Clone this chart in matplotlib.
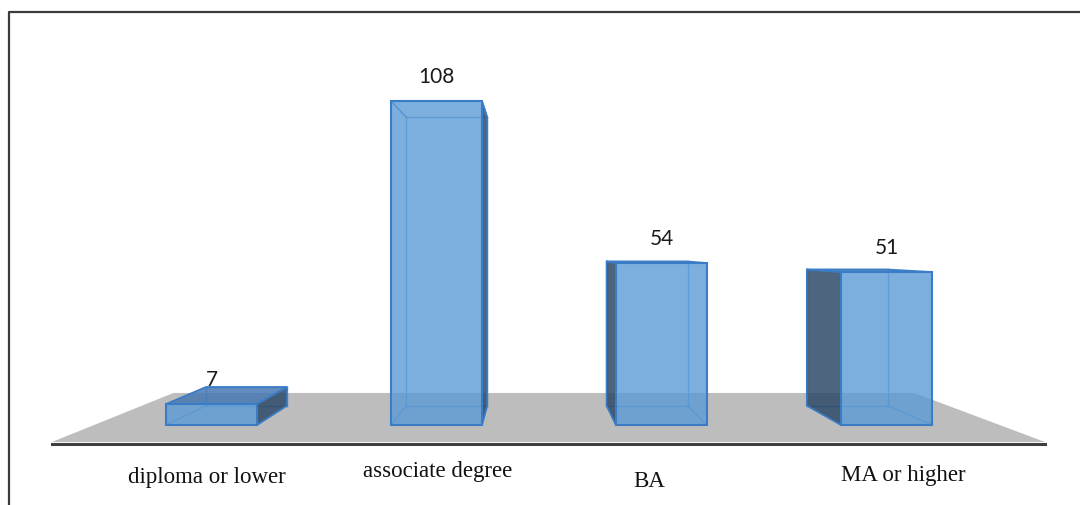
import matplotlib.pyplot as plt
from matplotlib.patches import Polygon

# data
categories = ['diploma or lower', 'associate degree', 'BA', 'MA or higher']
values = [7, 108, 54, 51]

# layout (pixel-like coordinates, y grows downward)
W, H = 1080, 506
vp = (530.0, 250.0)        # vanishing point of the fake perspective
k_bar = 0.89               # depth shrink of the bars
k_floor = 0.746            # depth shrink of the floor
base_y = 426.0
px_per_unit = 3.0
bar_w = 91.0
first_left = 166.0
step = 225.0
label_dx = [-5, 1, -12, 17]
label_dy = [52, 46, 56, 50]

face_col = (91/255, 155/255, 213/255, 0.8)
side_col = (46/255, 74/255, 104/255, 0.85)
top_col = (70/255, 120/255, 178/255, 0.85)
edge_col = '#3a7dc6'


def back(p, k):
    return (vp[0] + k * (p[0] - vp[0]), vp[1] + k * (p[1] - vp[1]))


fig = plt.figure(figsize=(W / 100, H / 100), dpi=100)
ax = fig.add_axes([0, 0, 1, 1])
ax.set_xlim(0, W)
ax.set_ylim(H, 0)
ax.axis('off')

# outer frame
ax.plot([9, 9, W], [H, 13, 13], color='#3c3c3c', lw=1.6, solid_capstyle='butt')

# floor
fl, fr, fy = 52.0, 1045.0, 443.0
floor = [(fl, fy), (fr, fy), back((fr, fy), k_floor), back((fl, fy), k_floor)]
ax.add_patch(Polygon(floor, closed=True, fc='#bdbdbd', ec='none', zorder=1))
ax.plot([fl, fr], [fy + 1.5, fy + 1.5], color='#3f3f3f', lw=2.2, zorder=2)

for i, (cat, v) in enumerate(zip(categories, values)):
    x0 = first_left + i * step
    x1 = x0 + bar_w
    top = base_y - v * px_per_unit
    fbl, fbr, ftr, ftl = (x0, base_y), (x1, base_y), (x1, top), (x0, top)
    bbl, bbr, btr, btl = [back(p, k_bar) for p in (fbl, fbr, ftr, ftl)]
    z = 3

    # back edges seen through the front face
    for a, b in [(bbl, bbr), (bbr, btr), (btr, btl), (btl, bbl), (fbl, bbl), (fbr, bbr)]:
        ax.plot([a[0], b[0]], [a[1], b[1]], color=edge_col, lw=1.0, alpha=0.7, zorder=z)

    # visible side face
    if x1 < vp[0]:
        side = [fbr, ftr, btr, bbr]
    else:
        side = [fbl, ftl, btl, bbl]
    ax.add_patch(Polygon(side, closed=True, fc=side_col, ec=edge_col, lw=1.2, zorder=z + 1))

    # top face when seen from above
    if top > vp[1]:
        ax.add_patch(Polygon([ftl, ftr, btr, btl], closed=True, fc=top_col, ec=edge_col,
                             lw=1.2, zorder=z + 1))
    else:
        ax.plot([ftl[0], btl[0]], [ftl[1], btl[1]], color=edge_col, lw=1.0, zorder=z + 1)
        ax.plot([ftr[0], btr[0]], [ftr[1], btr[1]], color=edge_col, lw=1.0, zorder=z + 1)

    # front face
    ax.add_patch(Polygon([fbl, fbr, ftr, ftl], closed=True, fc=face_col, ec=edge_col,
                         lw=1.5, zorder=z + 2))

    cx = (x0 + x1) / 2
    ax.text(cx, top - 25, str(v), ha='center', va='center', fontsize=15,
            family='Lato', color='#1a1a1a', zorder=6)
    ax.text(cx + label_dx[i], base_y + label_dy[i], cat, ha='center', va='center',
            fontsize=16.5, family='Liberation Serif', color='#111111', zorder=6)

fig.savefig('out.png', dpi=100)
